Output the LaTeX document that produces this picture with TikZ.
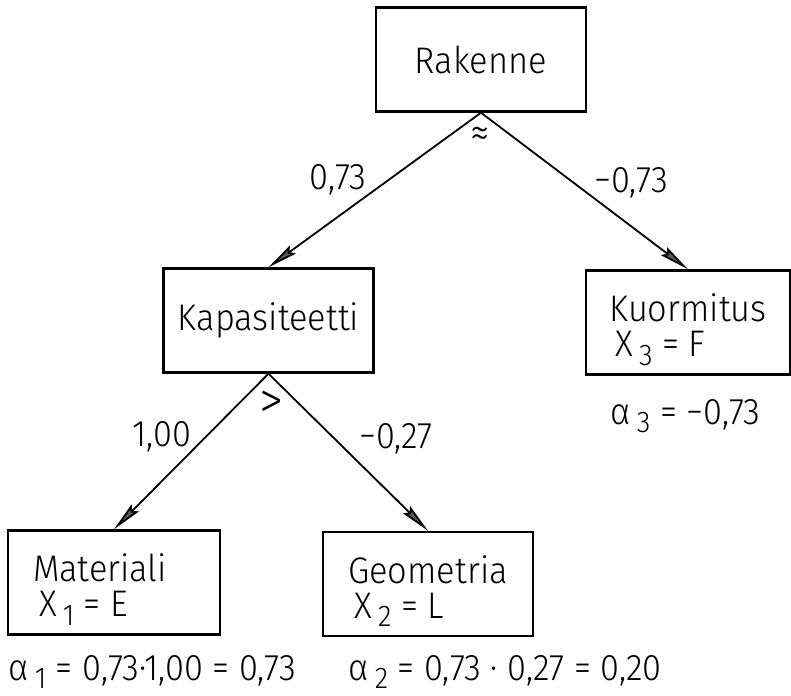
\documentclass[tikz,border=0pt]{standalone}
\usepackage{fontspec}
\setmainfont{Fira Sans Light}[FakeStretch=0.93]
\usetikzlibrary{arrows.meta}
\newcommand\lowidx[1]{\,\raisebox{-0.45ex}{\fontsize{15}{15}\selectfont #1}}
\newcommand\tallrow{\rule{0pt}{21pt}}

\begin{document}
\begin{tikzpicture}[x=0.5pt, y=-0.5pt,
  every node/.style={font=\fontsize{18.5}{17.5}\selectfont, inner sep=0pt},
  box/.style={draw, line width=1.2pt, minimum width=105pt, minimum height=52pt, align=left},
  link/.style={line width=0.9pt, -{Stealth[length=15pt, width=5pt, inset=2pt, fill=black!65]}}]
\useasboundingbox (0,0) rectangle (791,695);

\node[box] (rakenne) at (481,59.5) {Rakenne};
\node[box] (kapasiteetti) at (268.5,320.5) {Kapasiteetti};
\node[box, minimum width=102pt] (kuormitus) at (688,322.5) {\tallrow Kuormitus\\\hspace{3pt}X\lowidx{3} = F};
\node[box, minimum width=106pt] (materiali) at (114,582.5) {\tallrow Materiali\rule{14pt}{0pt}\\\hspace{3pt}X\lowidx{1} = E};
\node[box] (geometria) at (428,584) {\tallrow Geometria\\\hspace{3pt}X\lowidx{2} = L};

\foreach \a/\b in {rakenne/kapasiteetti, rakenne/kuormitus, kapasiteetti/materiali, kapasiteetti/geometria}
  \draw[link] (\a.south) -- (\b.north);

% weights
\node[anchor=base] (w1) at (338,190) {0,73};
\node[anchor=base] (w2) at (631,192) {−0,73};
\node[anchor=base] (w3) at (162,446) {1,00};
\node[anchor=base] (w4) at (396,448) {−0,27};
\node[font=\fontsize{22}{22}\selectfont] (r1) at (480,137) {≈};
\node[font=\fontsize{26}{26}\selectfont] (r2) at (272,405) {>};

% sensitivity factors
\node[anchor=base west] (a1) at (8,680) {α\lowidx{1} = 0,73·1,00 = 0,73};
\node[anchor=base west] (a2) at (348,680) {α\lowidx{2} = 0,73 · 0,27 = 0,20};
\node[anchor=base west] (a3) at (610,424) {α\lowidx{3} = −0,73};
\end{tikzpicture}
\end{document}
